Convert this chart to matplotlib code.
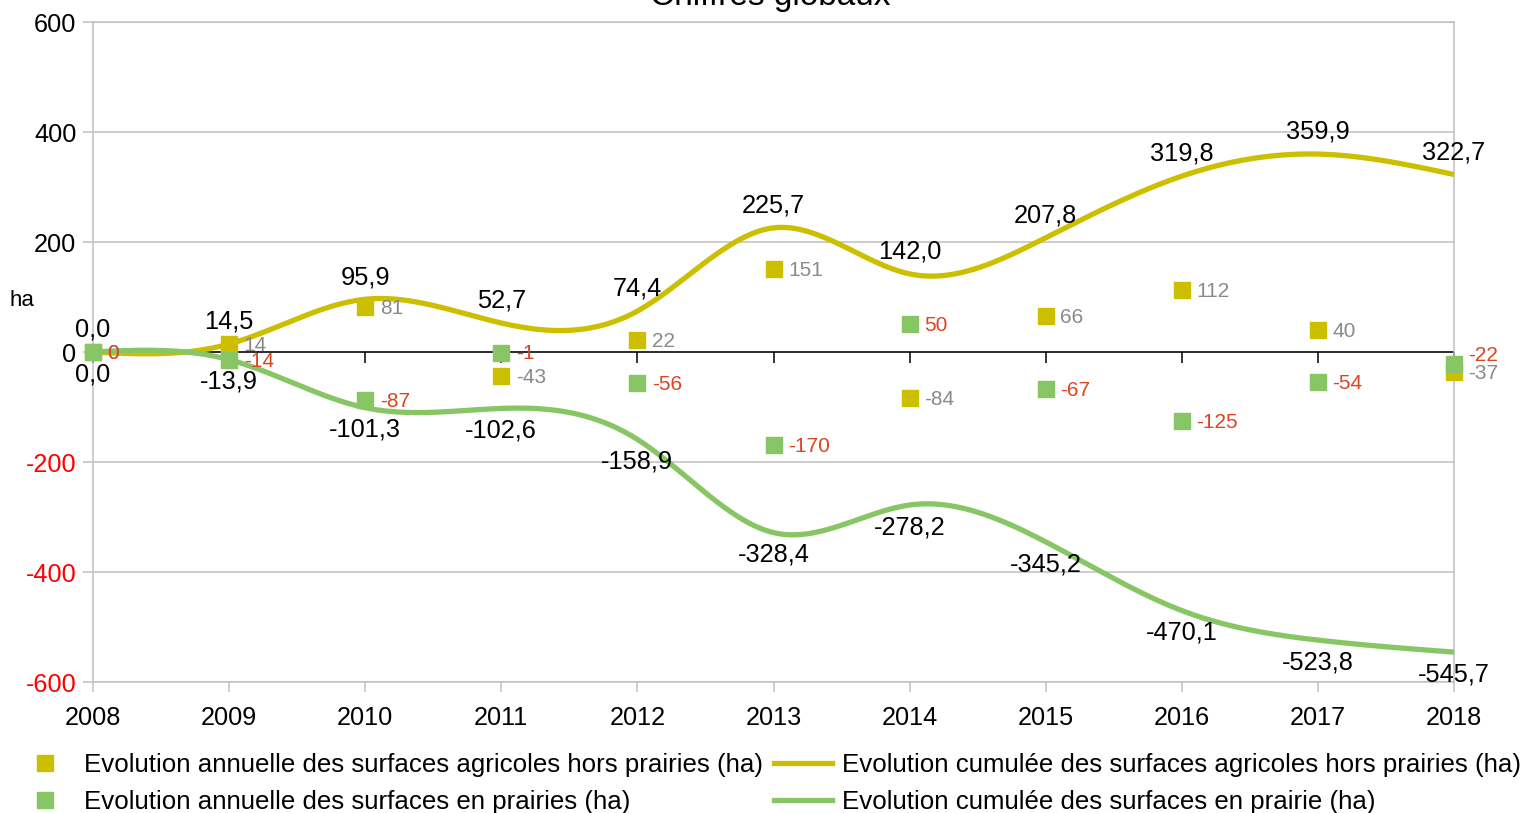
import numpy as np
import matplotlib
matplotlib.use("Agg")
import matplotlib.pyplot as plt
from matplotlib.lines import Line2D

# ---------------- data ----------------
years = [2008, 2009, 2010, 2011, 2012, 2013, 2014, 2015, 2016, 2017, 2018]
annual_agri = [0, 14, 81, -43, 22, 151, -84, 66, 112, 40, -37]
annual_prairie = [0, -14, -87, -1, -56, -170, 50, -67, -125, -54, -22]
cum_agri = [0.0, 14.5, 95.9, 52.7, 74.4, 225.7, 142.0, 207.8, 319.8, 359.9, 322.7]
cum_prairie = [0.0, -13.9, -101.3, -102.6, -158.9, -328.4, -278.2, -345.2, -470.1, -523.8, -545.7]
yticks = [-600, -400, -200, 0, 200, 400, 600]
title = "Chiffres globaux"
lbl_annual_agri = "Evolution annuelle des surfaces agricoles hors prairies (ha)"
lbl_annual_prairie = "Evolution annuelle des surfaces en prairies (ha)"
lbl_cum_agri = "Evolution cumulée des surfaces agricoles hors prairies (ha)"
lbl_cum_prairie = "Evolution cumulée des surfaces en prairie (ha)"

# ---------------- style ----------------
plt.rcParams["font.family"] = ["Liberation Sans", "DejaVu Sans"]

YELLOW = "#CCBF00"
GREEN = "#88C665"
GRAYLBL = "#8A8A8A"
REDLBL = "#DC4520"
GRID = "#C0C0C0"

FS = 18.2
FS_LBL = 18.3
FS_SMALL = 15
FS_LEG = 18.6
MS = 11.5


def natural_spline(x, y, n=60):
    x = np.asarray(x, float)
    y = np.asarray(y, float)
    m = len(x)
    h = np.diff(x)
    A = np.zeros((m, m))
    b = np.zeros(m)
    A[0, 0] = 1
    A[-1, -1] = 1
    for i in range(1, m - 1):
        A[i, i - 1] = h[i - 1]
        A[i, i] = 2 * (h[i - 1] + h[i])
        A[i, i + 1] = h[i]
        b[i] = 6 * ((y[i + 1] - y[i]) / h[i] - (y[i] - y[i - 1]) / h[i - 1])
    M = np.linalg.solve(A, b)
    xs, ys = [], []
    for i in range(m - 1):
        t = np.linspace(x[i], x[i + 1], n, endpoint=(i == m - 2))
        a = x[i + 1] - t
        c = t - x[i]
        s = (M[i] * a ** 3 / (6 * h[i]) + M[i + 1] * c ** 3 / (6 * h[i])
             + (y[i] / h[i] - M[i] * h[i] / 6) * a
             + (y[i + 1] / h[i] - M[i + 1] * h[i] / 6) * c)
        xs.append(t)
        ys.append(s)
    return np.concatenate(xs), np.concatenate(ys)


fig = plt.figure(figsize=(15.28, 8.13), dpi=100)
ax = fig.add_axes([93 / 1528, 1 - 682 / 813, (1454 - 93) / 1528, (682 - 22) / 813])

ax.set_xlim(years[0], years[-1])
ax.set_ylim(-600, 600)
ax.set_yticks(yticks)
ax.set_xticks(years)
ax.set_xticklabels([str(y) for y in years])
ax.set_yticklabels([str(v) for v in yticks])

ax.grid(axis="y", color=GRID, lw=1.1)
ax.set_axisbelow(True)
for s in ["left", "right", "bottom", "top"]:
    ax.spines[s].set_color(GRID)
    ax.spines[s].set_linewidth(1.1)
ax.tick_params(axis="both", colors=GRID, labelsize=FS, length=7, width=1.1)
ax.tick_params(axis="y", labelcolor="black", pad=5)
ax.tick_params(axis="x", labelcolor="black", pad=10.5, direction="out")
for t, v in zip(ax.get_yticklabels(), yticks):
    t.set_color("#FF0000" if v < 0 else "black")

# zero axis line with ticks
ax.axhline(0, color="black", lw=1.1, zorder=2)
ax.plot(years, [0] * len(years), linestyle="none", marker=3, markersize=8,
        markeredgewidth=1.1, color="black", zorder=2, clip_on=False)

# cumulative smooth lines
xs, ys = natural_spline(years, cum_agri)
ax.plot(xs, ys, color=YELLOW, lw=3.8, zorder=3, clip_on=False, solid_capstyle="butt")
xs, ys = natural_spline(years, cum_prairie)
ax.plot(xs, ys, color=GREEN, lw=3.8, zorder=3, clip_on=False, solid_capstyle="butt")

# annual markers
ax.plot(years, annual_agri, linestyle="none", marker="s", markersize=MS,
        color=YELLOW, zorder=4, clip_on=False)
ax.plot(years, annual_prairie, linestyle="none", marker="s", markersize=MS,
        color=GREEN, zorder=5, clip_on=False)


def fmt(v):
    return ("%.1f" % v).replace(".", ",")


for x, v in zip(years, cum_agri):
    ax.annotate(fmt(v), (x, v), xytext=(0, 16), textcoords="offset points",
                ha="center", va="center", fontsize=FS_LBL, color="black", zorder=6,
                annotation_clip=False)
for x, v in zip(years, cum_prairie):
    ax.annotate(fmt(v), (x, v), xytext=(0, -16), textcoords="offset points",
                ha="center", va="center", fontsize=FS_LBL, color="black", zorder=6,
                annotation_clip=False)

for i, (x, v) in enumerate(zip(years, annual_agri)):
    ax.annotate(str(v), (x, v), xytext=(10.5, -1), textcoords="offset points",
                ha="left", va="center", fontsize=FS_SMALL, color=GRAYLBL, zorder=6,
                annotation_clip=False)
for i, (x, v) in enumerate(zip(years, annual_prairie)):
    dy = 6 if i == len(years) - 1 else -1
    ax.annotate(str(v), (x, v), xytext=(10.5, dy), textcoords="offset points",
                ha="left", va="center", fontsize=FS_SMALL, color=REDLBL, zorder=7,
                annotation_clip=False)

fig.text(22 / 1528, 1 - 300 / 813, "ha", fontsize=16, ha="center", va="center")
fig.text(770 / 1528, 1 - 5 / 813, title, fontsize=24, ha="center", va="baseline")

handles = [
    Line2D([], [], linestyle="none", marker="s", markersize=12, color=YELLOW),
    Line2D([], [], linestyle="none", marker="s", markersize=12, color=GREEN),
    Line2D([], [], color=YELLOW, lw=3.8),
    Line2D([], [], color=GREEN, lw=3.8),
]
labels = [lbl_annual_agri, lbl_annual_prairie, lbl_cum_agri, lbl_cum_prairie]
fig.legend(handles, labels, ncol=2, loc="upper left",
           bbox_to_anchor=(16 / 1528, 1 - 753 / 813), frameon=False,
           fontsize=FS_LEG, handlelength=2.24, handletextpad=0.38, columnspacing=0.45,
           labelspacing=0.5, borderpad=0, borderaxespad=0)

fig.savefig("out.png", dpi=100)
